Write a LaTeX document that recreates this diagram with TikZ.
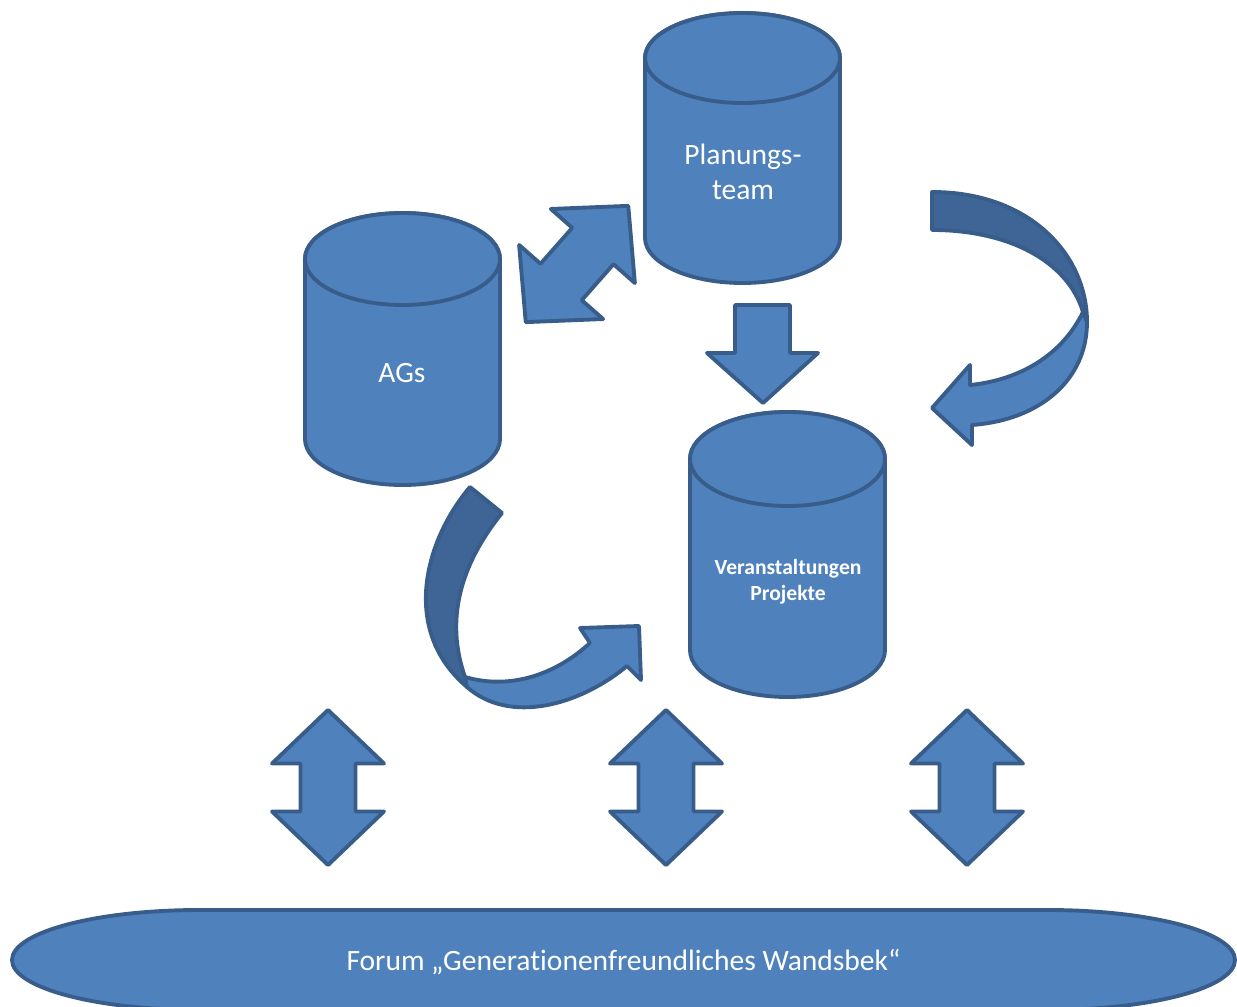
\documentclass[tikz,border=0pt]{standalone}
\usepackage{fontspec}
\setmainfont{Carlito}[Ligatures=NoCommon]
\usetikzlibrary{shapes.geometric}

\definecolor{boxblue}{HTML}{4F81BD}
\definecolor{edgeblue}{HTML}{385D8A}
\definecolor{backblue}{HTML}{3E6595}

% cylinder: centre x, top y, bottom y, y radius
\newcommand{\drum}[4]{%
    \filldraw[block] (#1-97.5,#2) -- (#1-97.5,#3) arc[start angle=180, end angle=0, x radius=97.5, y radius=#4]
        -- (#1+97.5,#2) arc[start angle=0, end angle=-180, x radius=97.5, y radius=#4] -- cycle;
    \draw[block] (#1,#2) ellipse[x radius=97.5, y radius=#4];
}
% double arrow, drawn round the origin
\newcommand{\twoway}{(0,-77.5) -- (56,-24) -- (27.5,-24) -- (27.5,24) -- (56,24) -- (0,77.5)
    -- (-56,24) -- (-27.5,24) -- (-27.5,-24) -- (-56,-24) -- cycle}

\begin{document}
\begin{tikzpicture}[x=0.02cm, y=-0.02cm,
        block/.style={fill=boxblue, draw=edgeblue, line width=2.2pt, line join=round},
        back/.style={block, fill=backblue},
        label/.style={text=white, align=center, font=\fontsize{16.8}{20}\selectfont}]
        \useasboundingbox (0,0) rectangle (1237,1007);

        % cylinders
        \drum{742.5}{58}{238}{45}
        \drum{402.5}{259}{439}{46}
        \drum{787.5}{459}{650}{47}

        \node[label] (plan) at (743,172) {Planungs-\\team};
        \node[label] (ags) at (402,373) {AGs};
        \node[label, font=\bfseries\fontsize{12.3}{14.7}\selectfont] (events) at (788,582) {Veranstaltungen\\Projekte};

        % forum
        \draw[block] (199,910) -- (1048,910) arc[start angle=-90, end angle=90, x radius=187, y radius=50]
            -- (199,1010) arc[start angle=90, end angle=270, x radius=187, y radius=50] -- cycle;
        \node[label] (forum) at (623.5,962) {Forum „Generationenfreundliches Wandsbek“};

        % straight arrows
        \draw[block] (735,305) -- (790,305) -- (790,353) -- (818,353) -- (763,403) -- (707,353) -- (735,353) -- cycle;
        \draw[block, shift={(577,264)}, rotate=-41.4] \twoway;
        \foreach \x in {328,666,967}
            \draw[block, shift={(\x,787.5)}] \twoway;

        % curved arrow on the right
        \draw[back] (932,192) .. controls (1030,192) and (1087,255) .. (1087,322)
            -- (1083,312) .. controls (1068,262) and (1010,230) .. (932,230) -- cycle;
        \draw[block] (1083,312) .. controls (1062,355) and (1020,380) .. (970,385)
            -- (970,365) -- (932,408) -- (972,445) -- (972,425)
            .. controls (1040,420) and (1087,380) .. (1087,322) -- cycle;

        % curved arrow below the AGs
        \draw[back] (470,487) .. controls (425,540) and (400,630) .. (467,687)
            -- (465,677) .. controls (445,620) and (460,565) .. (502,513) -- cycle;
        \draw[block] (465,677) .. controls (510,690) and (555,675) .. (590,643)
            -- (580,628) -- (639,626) -- (641,680) -- (627,666)
            .. controls (580,705) and (510,725) .. (467,687) -- cycle;
\end{tikzpicture}
\end{document}
